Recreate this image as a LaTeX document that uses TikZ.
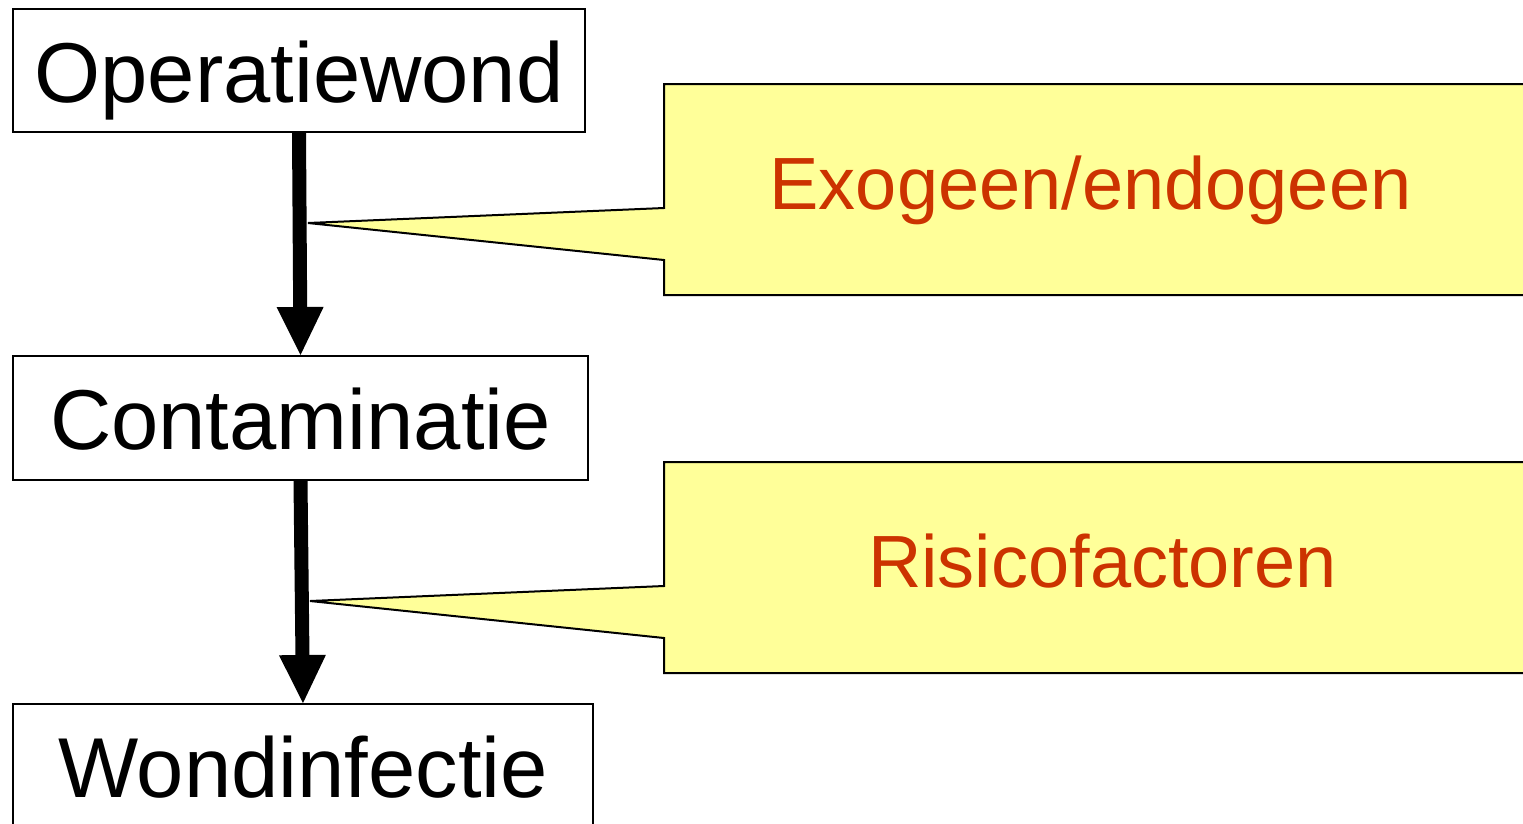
\documentclass[tikz,border=0pt]{standalone}
\usepackage{fontspec}
\setmainfont{Liberation Sans}
\usetikzlibrary{arrows.meta}
\definecolor{calloutfill}{HTML}{FFFF99}
\definecolor{callouttext}{HTML}{CC3300}
\begin{document}
\begin{tikzpicture}[x=1pt,y=-1pt,
  stepbox/.style={draw, line width=2pt, fill=white, inner sep=0pt,
    font=\fontsize{85}{90}\selectfont, text height=63pt, text depth=0pt},
  callout/.style={draw, line width=2pt, fill=calloutfill, line join=miter},
  callouttxt/.style={text=callouttext, font=\fontsize{74}{80}\selectfont, inner sep=0pt, anchor=base},
  flow/.style={line width=14pt, -{Triangle[width=47pt,length=48pt,line width=0pt]}}]
\useasboundingbox (0,0) rectangle (1523,823);
\clip (0,0) rectangle (1523,823);
% boxes
\node[stepbox, minimum width=572pt, minimum height=123pt] (op) at (299,70.5) {Operatiewond};
\node[stepbox, minimum width=575pt, minimum height=124pt] (co) at (300.5,418) {Contaminatie};
\node[stepbox, minimum width=580pt, minimum height=124pt] (wi) at (303,766) {Wondinfectie};
% callouts
\coordinate (tip1) at (308,223);
\coordinate (tip2) at (310,601);
\draw[callout] (664,84) -- (1540,84) -- (1540,295) -- (664,295) -- (664,260) -- (tip1) -- (664,208) -- cycle;
\draw[callout] (664,462) -- (1540,462) -- (1540,673) -- (664,673) -- (664,638) -- (tip2) -- (664,586) -- cycle;
\node[callouttxt] (exo) at (1090.5,209) {Exogeen/endogeen};
\node[callouttxt] (risk) at (1102.5,587) {Risicofactoren};
% arrows
\draw[flow] (op.south) -- (co.north);
\draw[flow] (co.south) -- (wi.north);
\end{tikzpicture}
\end{document}
